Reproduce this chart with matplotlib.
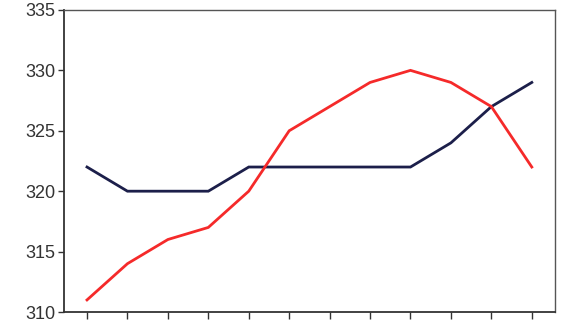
import numpy as np
import matplotlib
matplotlib.use("Agg")
import matplotlib.pyplot as plt

# 12 points, no x labels in the reference
periods = list(range(12))
red_vals = [311, 314, 316, 317, 320, 325, 327, 329, 330, 329, 327, 322]
navy_vals = [322, 320, 320, 320, 322, 322, 322, 322, 322, 324, 327, 329]
yticks = [310, 315, 320, 325, 330, 335]

plt.rcParams['font.family'] = ['Liberation Sans', 'DejaVu Sans']

fig = plt.figure(figsize=(5.66, 3.21), dpi=100)
ax = fig.add_axes([0.113, 0.028, 0.868, 0.941])

ax.plot(periods, navy_vals, color='#1c1f4a', lw=2.0, solid_joinstyle='miter')
ax.plot(periods, red_vals, color='#f52a2a', lw=2.0, solid_joinstyle='miter')

ax.set_ylim(310, 335)
ax.set_xlim(-0.57, 11.58)
ax.set_yticks(yticks)
ax.set_xticks(periods)
ax.set_xticklabels([])
ax.tick_params(axis='y', direction='out', length=4, width=1, colors='#333333', labelsize=13, pad=2)
ax.tick_params(axis='x', direction='out', length=5, width=1, colors='#333333')
for s in ['left', 'bottom']:
    ax.spines[s].set_color('#333333')
    ax.spines[s].set_linewidth(1.3)
for s in ['top', 'right']:
    ax.spines[s].set_color('#555555')
    ax.spines[s].set_linewidth(1.0)

fig.savefig('out.png', dpi=100, facecolor='white')
